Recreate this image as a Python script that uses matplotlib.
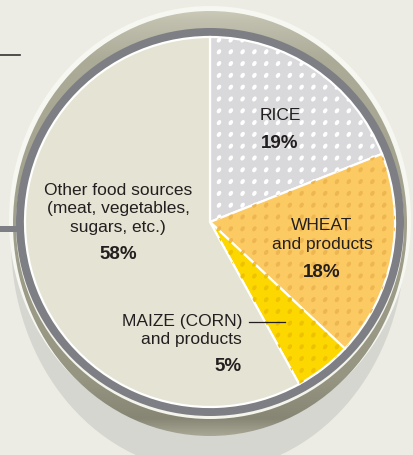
import numpy as np
import matplotlib
matplotlib.use("Agg")
import matplotlib.pyplot as plt
from matplotlib.patches import Circle, Ellipse, Rectangle
from matplotlib.collections import EllipseCollection

# Share of world food supply (%)
labels = ["RICE", "WHEAT and products", "MAIZE (CORN) and products", "Other food sources"]
shares = [19, 18, 5, 58]
fills = ["#d9d9dc", "#fcca63", "#fcd700", "#e5e3d3"]
dot_colors = ["#ffffff", "#eeb650", "#eec200", None]

BG = "#ecece4"
INK = "#231f20"
RING = "#7e7f84"

cx, cy, r = 210, 223, 185

plt.rcParams["font.family"] = ["Liberation Sans", "DejaVu Sans"]

fig = plt.figure(figsize=(4.13, 4.56), dpi=100)
fig.patch.set_facecolor(BG)
ax = fig.add_axes([0, 0, 1, 1])
ax.set_facecolor(BG)

# drop shadow under the plate
ax.add_patch(Ellipse((208, 242), 394, 460, facecolor="#d5d6cf", edgecolor="none", zorder=1))
# outer highlight
ax.add_patch(Ellipse((210, 221), 402, 428, facecolor="#f7f7f1", edgecolor="none", zorder=2))

# olive bevel with a vertical gradient
bevel = Ellipse((210, 224.5), 394, 425, transform=ax.transData)
ys = np.linspace(0, 456, 300)
stops_y = [0, 20, 60, 380, 420, 437, 456]
stops = np.array([[214, 213, 198], [194, 193, 176], [172, 171, 152],
                  [150, 149, 130], [135, 134, 116], [168, 167, 150], [168, 167, 150]]) / 255
grad = np.stack([np.interp(ys, stops_y, stops[:, k]) for k in range(3)], axis=-1)[:, None, :]
im = ax.imshow(grad, extent=[0, 413, 456, 0], aspect="auto", zorder=3)
im.set_clip_path(bevel)

# inner highlight and the grey rim
ax.add_patch(Circle((cx, cy + 3), 194, facecolor="#f4f4ec", edgecolor="none", zorder=4))
ax.add_patch(Circle((cx, cy), 194, facecolor=RING, edgecolor="none", zorder=5))
ax.add_patch(Rectangle((0, 227), 20, 6, facecolor=RING, edgecolor="none", zorder=5))

wedges, _ = ax.pie(shares, colors=fills, startangle=-90, counterclock=True,
                   center=(cx, cy), radius=r,
                   wedgeprops=dict(edgecolor="white", linewidth=1.6))
for w in wedges:
    w.set_zorder(6)

# dotted textures
gx, gy = np.meshgrid(np.arange(219, 413, 11.8), np.arange(41, 456, 11.8))
grid = np.column_stack([gx.ravel(), gy.ravel()])
for w, dc in zip(wedges, dot_colors):
    if dc is None:
        continue
    ec = EllipseCollection(widths=5.6, heights=3.9, angles=-55, units="xy",
                           offsets=grid, offset_transform=ax.transData,
                           facecolors=dc, edgecolors="none", zorder=7)
    ax.add_collection(ec)
    ec.set_clip_path(w)

fs = 12.5
pfs = 13.5
# labels
ax.text(280, 116, "RICE", ha="center", va="center", fontsize=fs, color=INK, zorder=10)
ax.text(280, 144, "19%", ha="center", va="center", fontsize=pfs, fontweight="bold", color=INK, zorder=10)
ax.text(322, 235, "WHEAT\nand products", ha="center", va="center", fontsize=fs,
        color=INK, linespacing=1.3, zorder=10)
ax.text(322, 273, "18%", ha="center", va="center", fontsize=pfs, fontweight="bold", color=INK, zorder=10)
ax.text(118, 209, "Other food sources\n(meat, vegetables,\nsugars, etc.)", ha="center",
        va="center", fontsize=fs, color=INK, linespacing=1.3, zorder=10)
ax.text(118, 255, "58%", ha="center", va="center", fontsize=pfs, fontweight="bold", color=INK, zorder=10)
ax.text(242, 331, "MAIZE (CORN)\nand products", ha="right", va="center", fontsize=fs,
        color=INK, linespacing=1.25, zorder=10)
ax.text(242, 367, "5%", ha="right", va="center", fontsize=pfs, fontweight="bold", color=INK, zorder=10)

# leader line and stray rule
ax.plot([249, 285], [323, 323], color=INK, linewidth=0.9, zorder=10)
ax.plot([0, 20], [55.5, 55.5], color="#333333", linewidth=1.2, zorder=10)

ax.set_xlim(0, 413)
ax.set_ylim(456, 0)
ax.axis("off")

fig.savefig("out.png", dpi=100, facecolor=BG)
